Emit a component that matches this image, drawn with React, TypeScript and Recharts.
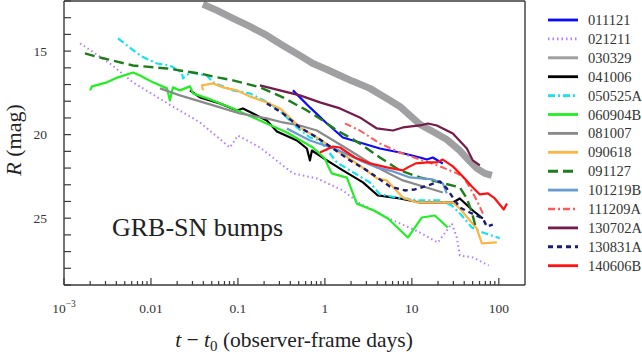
import React from 'react';
import {LineChart, Line, XAxis, YAxis} from 'recharts';

const AX = '#3a3a3a';
const FONT = '"Liberation Serif", "Times New Roman", serif';

// [t - t0 (days), R (mag)]
const grb011121: [number, number][] = [
    [0.429, 17.35], [0.673, 18.37], [1.055, 19.33], [1.61, 20.17], [2.52, 20.47], [4.29, 20.83],
    [7.28, 21.07], [12.4, 21.37], [14.9, 21.49], [17.4, 21.37], [22.7, 21.73],
];
const grb021211: [number, number][] = [
    [0.00153, 14.54], [0.00338, 15.74], [0.00621, 16.87], [0.0153, 18.11], [0.0366, 19.27], [0.0809, 20.77],
    [0.1, 20.05], [0.179, 20.77], [0.252, 21.37], [0.429, 22.32], [0.809, 22.62], [1.61, 23.34],
    [2.52, 24.12], [5.16, 24.96], [12.4, 25.86], [19.9, 26.46], [28.8, 25.32], [32.9, 26.15],
    [35.6, 27.23], [50.2, 27.35], [76.7, 27.83],
];
const grb030329: [number, number][] = [
    [0.0396, 12.2], [0.0574, 12.56], [0.0877, 13.04], [0.137, 13.52], [0.215, 14.06], [0.329, 14.66],
    [0.516, 15.26], [0.728, 15.74], [1.055, 16.1], [1.49, 16.46], [2.1, 16.81], [3.29, 17.23],
    [5.16, 17.83], [7.28, 18.31], [9.48, 18.85], [12.4, 19.39], [17.4, 19.81], [25.2, 20.29],
    [35.6, 20.95], [46.4, 21.6], [55.8, 22.02], [69, 22.32], [83.2, 22.44],
];
const grb041006: [number, number][] = [
    [0.0281, 17.35], [0.0366, 17.77], [0.0621, 18.13], [0.0975, 18.55], [0.114, 18.43], [0.165, 18.85],
    [0.215, 19.15], [0.281, 19.81], [0.477, 20.35], [0.621, 20.83], [0.673, 21.54], [0.709, 20.95],
    [1.055, 21.54], [1.61, 22.14], [2.74, 22.86], [4.06, 23.64], [7.28, 23.82], [12.4, 24.06],
    [29.6, 24.06], [35.6, 23.82], [50.2, 24.54], [65.5, 25.02],
];
const grb050525A: [number, number][] = [
    [0.00418, 14.24], [0.0053, 14.66], [0.00748, 15.26], [0.0117, 15.74], [0.0165, 15.86], [0.0227, 16.28],
    [0.0233, 16.63], [0.0281, 16.28], [0.044, 16.46], [0.0516, 16.87], [0.0877, 17.35], [0.137, 17.53],
    [0.233, 18.13], [0.329, 18.73], [0.477, 19.57], [0.673, 20.17], [0.877, 20.35], [1.37, 21.66],
    [1.94, 22.14], [3.29, 22.86], [4.29, 23.58], [6.73, 23.76], [12.4, 23.94], [21.0, 23.94],
    [28.8, 24.24], [37.6, 24.84], [49, 25.56], [65.5, 25.86], [102.6, 26.2],
];
const grb060904B: [number, number][] = [
    [0.00199, 17.35], [0.0021, 17.11], [0.00312, 16.87], [0.00418, 16.57], [0.00621, 16.28], [0.00748, 16.46],
    [0.01055, 16.87], [0.0153, 17.23], [0.0165, 17.95], [0.0179, 17.17], [0.0215, 17.35], [0.0281, 17.11],
    [0.0304, 17.53], [0.0516, 17.95], [0.0877, 18.43], [0.179, 19.15], [0.366, 19.87], [0.728, 20.77],
    [1.0, 21.43], [1.08, 21.84], [1.2, 22.32], [1.79, 22.57], [2.33, 24.13], [3.66, 24.54],
    [5.3, 25.02], [9.0, 26.16], [13.0, 24.96], [18.4, 24.84], [25.9, 25.56],
];
const grb081007: [number, number][] = [
    [0.0127, 17.23], [0.0215, 17.65], [0.0366, 18.01], [0.0621, 18.37], [0.105, 18.73], [0.215, 19.03],
    [0.329, 19.27], [0.516, 19.45], [0.809, 19.75], [1.94, 20.95], [3.96, 21.96], [7.89, 22.74],
    [16.1, 23.22], [22.7, 23.46],
];
const grb090618: [number, number][] = [
    [0.0396, 17.35], [0.0386, 17.05], [0.0516, 16.93], [0.0673, 17.17], [0.0975, 17.35], [0.137, 17.71],
    [0.215, 18.07], [0.304, 18.43], [0.429, 19.15], [0.516, 19.57], [0.809, 20.17], [1.37, 20.95],
    [2.33, 21.72], [3.96, 22.62], [5.16, 22.74], [7.89, 23.76], [11.4, 24.06], [29.6, 24.06],
    [35.6, 24.42], [55.8, 25.62], [63.8, 26.51], [94.8, 26.45],
];
const grb091127: [number, number][] = [
    [0.00174, 15.14], [0.00259, 15.38], [0.00621, 15.86], [0.0153, 16.04], [0.0366, 16.34], [0.0574, 16.57],
    [0.0877, 16.75], [0.179, 17.17], [0.329, 17.77], [0.621, 18.55], [0.948, 19.15], [1.37, 19.75],
    [1.94, 20.17], [2.52, 20.53], [4.29, 21.37], [7.28, 22.14], [12.4, 22.56], [21.0, 22.86],
    [35.6, 23.16], [42.9, 23.82], [49, 24.66], [54.5, 25.56],
];
const grb101219B: [number, number][] = [
    [0.366, 19.63], [0.673, 20.35], [1.37, 20.89], [2.52, 21.54], [3.96, 21.96], [6.05, 22.2],
    [9.48, 22.56], [17.4, 22.68], [22.7, 22.92], [25.2, 23.52],
];
const grb111209A: [number, number][] = [
    [1.7, 19.33], [2.52, 19.75], [4.29, 20.53], [7.28, 21.07], [12.4, 21.49], [21.0, 21.9],
    [31.2, 22.26], [38.5, 22.5], [46.4, 23.16], [55.8, 23.94], [67.3, 24.84],
];
const grb130702A: [number, number][] = [
    [0.179, 17.05], [0.304, 17.35], [0.516, 17.65], [0.877, 18.07], [1.49, 18.43], [2.52, 18.97],
    [3.96, 19.63], [6.05, 19.75], [7.89, 19.57], [12.4, 19.45], [15.3, 19.33], [19.4, 19.45],
    [29.6, 19.93], [42.9, 20.83], [50.2, 21.54], [60.5, 21.84],
];
const grb130831A: [number, number][] = [
    [0.215, 18.13], [0.329, 18.73], [0.516, 19.57], [0.809, 20.17], [1.24, 20.83], [1.94, 21.54],
    [3.04, 22.14], [5.59, 23.1], [8.32, 23.34], [10.8, 23.28], [14.1, 23.1], [21.0, 22.8],
    [25.2, 23.22], [29.6, 23.76], [35.6, 24.36], [46.4, 24.66], [65.5, 25.02], [72.8, 25.5], [85.3, 25.38],
];
const grb140606B: [number, number][] = [
    [0.877, 21.07], [1.24, 20.71], [1.49, 20.77], [2.21, 21.37], [3.29, 21.72], [5.16, 21.96],
    [7.89, 22.14], [9.0, 21.96], [11.1, 21.72], [15.3, 21.66], [19.4, 21.66], [22.7, 21.49],
    [29.6, 21.9], [38.5, 22.5], [49, 23.1], [60.5, 23.58], [74.8, 23.52], [89.9, 23.82],
    [114, 24.48], [124, 24.12],
];

const series = [
    {name: '011121', pts: grb011121, color: '#0a0aff', width: 2.2},
    {name: '021211', pts: grb021211, color: '#b47cff', width: 2, dash: '1.5 3'},
    {name: '030329', pts: grb030329, color: '#a0a0a2', width: 7, legendWidth: 3},
    {name: '041006', pts: grb041006, color: '#000000', width: 2.2},
    {name: '050525A', pts: grb050525A, color: '#12e2f2', width: 2.2, dash: '7 3 2 3'},
    {name: '060904B', pts: grb060904B, color: '#22ee22', width: 2.2},
    {name: '081007', pts: grb081007, color: '#8a8a8a', width: 2.2},
    {name: '090618', pts: grb090618, color: '#ffb444', width: 2.2},
    {name: '091127', pts: grb091127, color: '#1d7d1d', width: 2.4, dash: '10 5'},
    {name: '101219B', pts: grb101219B, color: '#6a9ad4', width: 2.2},
    {name: '111209A', pts: grb111209A, color: '#ff5a5a', width: 2, dash: '7 3 2 3'},
    {name: '130702A', pts: grb130702A, color: '#741b4c', width: 2.2},
    {name: '130831A', pts: grb130831A, color: '#1c1c70', width: 2.4, dash: '5 4'},
    {name: '140606B', pts: grb140606B, color: '#ff1111', width: 2.2},
];

const decades = [0.001, 0.01, 0.1, 1, 10, 100];
const xLabels = ['', '0.01', '0.1', '1', '10', '100'];
const xTicks = decades.flatMap(d => [1, 2, 3, 4, 5, 6, 7, 8, 9].map(k => d * k)).filter(v => v < 199);
const yTicks = [12, 13, 14, 15, 16, 17, 18, 19, 20, 21, 22, 23, 24, 25, 26, 27, 28, 29];
const yLabels = [15, 20, 25];

const BottomTick = ({x, y, payload}: any) => {
    const i = decades.indexOf(payload.value);
    return (
        <g>
            <line x1={x} x2={x} y1={y} y2={y - (i >= 0 ? 7 : 4)} stroke={AX} strokeWidth={1.2} />
            {i === 0 && (
                <text x={x} y={y + 28} textAnchor="middle" fontFamily={FONT} fontSize={13.5} fill="#333">
                    10<tspan dy={-6} fontSize={9.5}>−3</tspan>
                </text>
            )}
            {i > 0 && (
                <text x={x} y={y + 28} textAnchor="middle" fontFamily={FONT} fontSize={13.5} fill="#333">
                    {xLabels[i]}
                </text>
            )}
        </g>
    );
};

const TopTick = ({x, y, payload}: any) => {
    const major = decades.includes(payload.value);
    return <line x1={x} x2={x} y1={y} y2={y + (major ? 7 : 4)} stroke={AX} strokeWidth={1.2} />;
};

const LeftTick = ({x, y, payload}: any) => (
    <g>
        <line x1={x} x2={x + 7} y1={y} y2={y} stroke={AX} strokeWidth={1.2} />
        {yLabels.includes(payload.value) && (
            <text x={x - 17} y={y + 4.5} textAnchor="end" fontFamily={FONT} fontSize={13.5} fill="#333">
                {payload.value}
            </text>
        )}
    </g>
);

const RightTick = ({x, y}: any) => <line x1={x} x2={x - 7} y1={y} y2={y} stroke={AX} strokeWidth={1.2} />;

const Overlay = () => (
    <g fontFamily={FONT} fill="#222">
        <text x={294} y={347} textAnchor="middle" fontSize={21.5}>
            <tspan fontStyle="italic">t</tspan> − <tspan fontStyle="italic">t</tspan>
            <tspan fontSize={15} dy={4}>0</tspan>
            <tspan dy={-4}> (observer-frame days)</tspan>
        </text>
        <text x={13} y={140} transform="rotate(-90 13 140)" textAnchor="middle" dominantBaseline="central" fontSize={22}>
            <tspan fontStyle="italic">R</tspan> (mag)
        </text>
        <text x={112} y={236} fontSize={26}>GRB-SN bumps</text>
        {series.map((s, i) => {
            const y = 20 + i * 18.9;
            return (
                <g key={s.name}>
                    <line x1={548} x2={578} y1={y} y2={y} stroke={s.color}
                          strokeWidth={s.legendWidth || s.width + 0.6} strokeDasharray={s.dash} />
                    <text x={588} y={y + 5} fontSize={14.5} fill="#333">{s.name}</text>
                </g>
            );
        })}
    </g>
);

const App = () => {
    return (
        <div style={{position: 'absolute', left: 0, top: 0, background: '#fff'}}>
            <LineChart width={642} height={355} margin={{top: 0, right: 116, bottom: 0, left: 0}}>
                <XAxis xAxisId="b" dataKey="t" type="number" scale="log" domain={[0.001, 200]}
                       ticks={xTicks} interval={0} tick={<BottomTick />} tickLine={false}
                       tickSize={0} tickMargin={0} height={70}
                       axisLine={{stroke: AX, strokeWidth: 1.4}} label={Overlay} />
                <XAxis xAxisId="t" orientation="top" dataKey="t" type="number" scale="log" domain={[0.001, 200]}
                       ticks={xTicks} interval={0} tick={<TopTick />} tickLine={false}
                       tickSize={0} tickMargin={0} height={1}
                       axisLine={{stroke: AX, strokeWidth: 1.4}} />
                <YAxis yAxisId="l" type="number" reversed domain={[12, 29]} ticks={yTicks} interval={0}
                       tick={<LeftTick />} tickLine={false} tickSize={0} tickMargin={0} width={64}
                       axisLine={{stroke: AX, strokeWidth: 1.4}} />
                <YAxis yAxisId="r" orientation="right" type="number" reversed domain={[12, 29]} ticks={yTicks}
                       interval={0} tick={<RightTick />} tickLine={false} tickSize={0} tickMargin={0} width={1}
                       axisLine={{stroke: AX, strokeWidth: 1.4}} />
                {series.map(s => (
                    <Line key={s.name} xAxisId="b" yAxisId="l" type="linear"
                          data={s.pts.map(([t, m]) => ({t, m}))} dataKey="m" name={s.name}
                          stroke={s.color} strokeWidth={s.width} strokeDasharray={s.dash}
                          strokeLinejoin="round" dot={false} activeDot={false} isAnimationActive={false} />
                ))}
            </LineChart>
        </div>
    );
};

export default App;
